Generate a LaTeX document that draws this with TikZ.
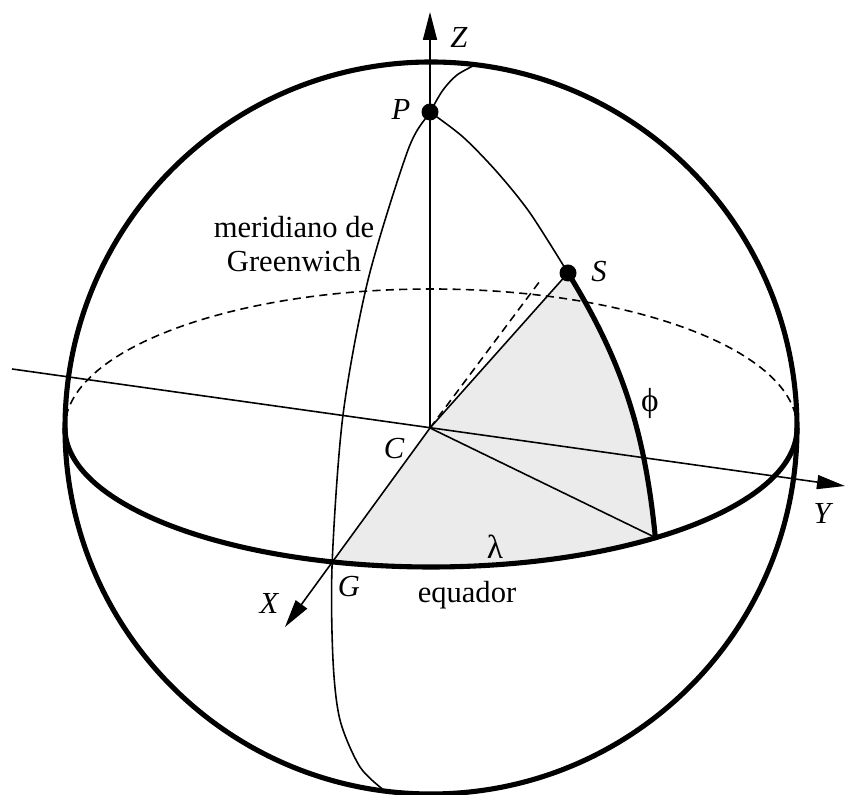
\documentclass[tikz,border=0pt]{standalone}
\usepackage{fontspec}
\setmainfont{Liberation Serif}
\usetikzlibrary{arrows.meta}

\begin{document}
\begin{tikzpicture}[
    font=\fontsize{8.7}{9.9}\selectfont,
    thinline/.style={line width=0.45pt},
    thickline/.style={line width=1.45pt},
    backline/.style={line width=0.45pt, dash pattern=on 2.3pt off 1.5pt},
    axis/.style={line width=0.45pt, -{Triangle[length=0.28cm, width=0.14cm]}},
    shade/.style={fill=black!8},
    dot/.style={circle, fill=black, inner sep=0pt, minimum size=0.17cm},
    lbl/.style={inner sep=0pt, font=\fontsize{8.7}{9.9}\selectfont\itshape}
]
    \useasboundingbox (-4.30,-3.67) rectangle (4.16,4.28);

    % centre, poles and points on the sphere
    \coordinate (C) at (0,0);
    \coordinate (P) at (0,3.16);
    \coordinate (S) at (1.38,1.55);
    \coordinate (G) at (-105.5:3.66 and 1.39);
    \coordinate (Q) at (-52:3.66 and 1.39);
    \coordinate (Zend) at (0,4.16);
    \coordinate (Xend) at (-1.45,-1.99);
    \coordinate (Xback) at (1.10,1.47);
    \coordinate (Ystart) at (-4.18,0.59);
    \coordinate (Yend) at (4.15,-0.58);

    % shaded sectors
    \fill[shade] (C) -- (G) arc[start angle=-105.5, end angle=-52, x radius=3.66, y radius=1.39] -- cycle;
    \fill[shade] (C) -- (Q) .. controls (2.15,-0.05) and (1.93,0.66) .. (S) -- cycle;

    % sphere and equator
    \draw[thickline] (0.01,0) circle[radius=3.66];
    \draw[backline] (3.67,0) arc[start angle=0, end angle=180, x radius=3.66, y radius=1.39];
    \draw[thickline] (3.67,0) arc[start angle=0, end angle=-180, x radius=3.66, y radius=1.39];

    % axes
    \draw[axis] (C) -- (Zend);
    \draw[axis] (C) -- (Xend);
    \draw[backline] (C) -- (Xback);
    \draw[axis] (Ystart) -- (Yend);
    \draw[thinline] (C) -- (S);
    \draw[thinline] (C) -- (Q);

    % meridians
    \draw[thinline] plot[smooth] coordinates {(0.45,3.63) (0.27,3.53) (0.13,3.38) (P) (-0.22,2.78)
        (-0.62,1.48) (-0.87,0.13) (G) (-0.97,-2.32) (-0.90,-2.92) (-0.70,-3.39) (-0.45,-3.63)};
    \draw[thinline] plot[smooth] coordinates {(P) (0.33,2.91) (0.67,2.56) (1.00,2.15) (S)};
    \draw[thickline] (S) .. controls (1.93,0.66) and (2.15,-0.05) .. (Q);

    \node[dot] (Pdot) at (P) {};
    \node[dot] (Sdot) at (S) {};

    % labels
    \node[lbl] (Zlbl) at (0.29,3.90) {Z};
    \node[lbl] (Plbl) at (-0.29,3.18) {P};
    \node[lbl] (Slbl) at (1.69,1.56) {S};
    \node[lbl] (Clbl) at (-0.36,-0.21) {C};
    \node[lbl] (Glbl) at (-0.81,-1.59) {G};
    \node[lbl] (Xlbl) at (-1.61,-1.75) {X};
    \node[lbl] (Ylbl) at (3.92,-0.85) {Y};
    \node[inner sep=0pt, font=\fontsize{9.5}{10}\selectfont] (lambda) at (0.65,-1.19) {λ};
    \node[inner sep=0pt, font=\fontsize{9.5}{10}\selectfont] (phi) at (2.20,0.25) {ϕ};
    \node[inner sep=0pt, anchor=base] (eq) at (0.37,-1.75) {equador};
    \node[inner sep=0pt, align=center] (mer) at (-1.36,1.84) {meridiano de\\Greenwich};
\end{tikzpicture}
\end{document}
